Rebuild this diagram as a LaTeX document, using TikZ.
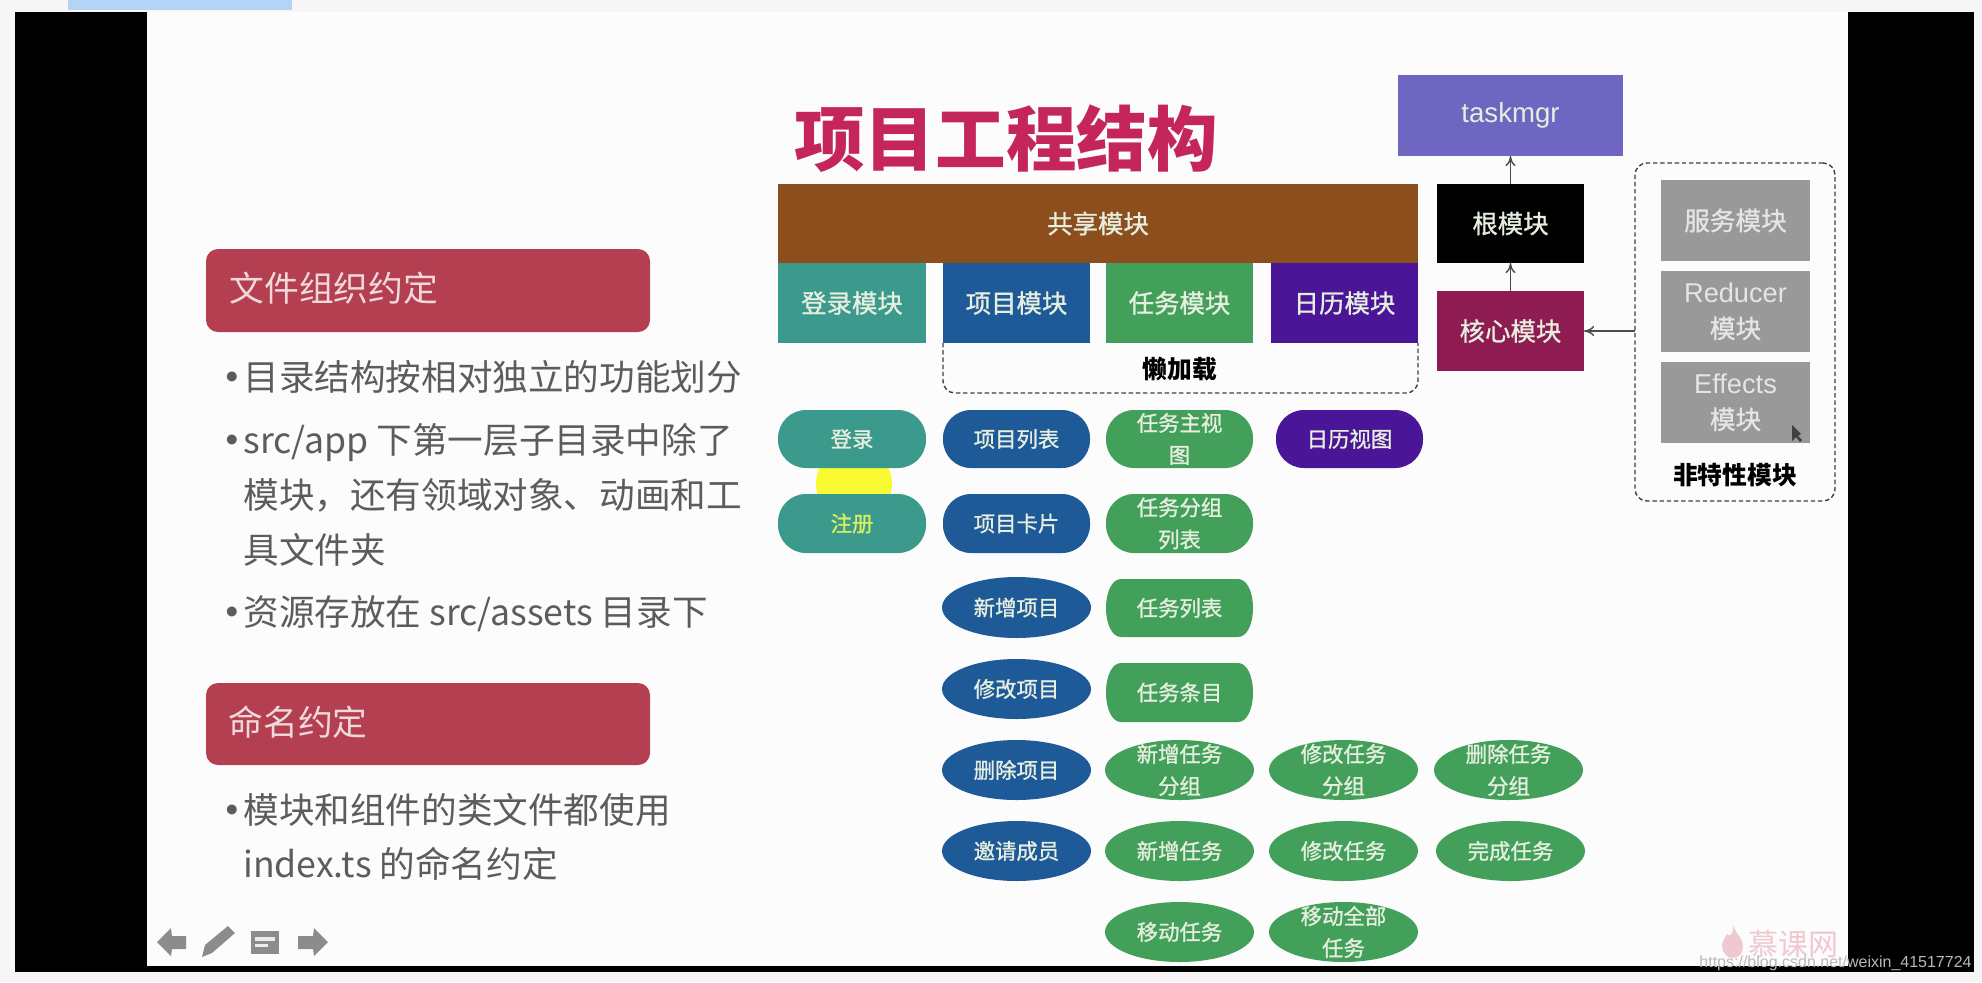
\documentclass[tikz,border=0pt]{standalone}
\usepackage{fontspec}
\setmainfont{Noto Sans CJK SC}
\newfontfamily\wmfont{Liberation Sans}
\newfontfamily\medfont[FakeBold=1.1]{Noto Sans CJK SC}
\usetikzlibrary{arrows.meta,shapes.geometric}
\definecolor{pagebg}{HTML}{F6F6F6}
\definecolor{slidebg}{HTML}{FDFCFD}
\definecolor{topbar}{HTML}{B5D3F7}
\definecolor{cteal}{HTML}{3C9A8C}
\definecolor{cblue}{HTML}{1F5A98}
\definecolor{cgreen}{HTML}{43A05A}
\definecolor{cpurple}{HTML}{4A1596}
\definecolor{cbrown}{HTML}{8B4E1C}
\definecolor{cmag}{HTML}{8E1B52}
\definecolor{ctask}{HTML}{6E66C0}
\definecolor{cgray}{HTML}{999999}
\definecolor{cred}{HTML}{B33F50}
\definecolor{ctitle}{HTML}{C4265C}
\definecolor{cbody}{HTML}{5C5C5C}
\definecolor{cicon}{HTML}{8C8C8C}
\definecolor{clogo}{HTML}{F0C8D0}
\definecolor{chigh}{HTML}{FAFA32}
\definecolor{cregtxt}{HTML}{D8F060}
\definecolor{clabel}{HTML}{E6EEDF}
\newcommand{\bx}[8][]{\node[#1,minimum width={(#6-#4)*0.5pt},minimum height={(#7-#5)*0.5pt},label={[#2]center:{#8}}] (#3) at ({(#4+#6)/2},{(#5+#7)/2}) {};}
% a box whose ends are elliptical: short in x, the full height in y
\newcommand{\bxe}[5]{\fill[#1] ({#2+15},#3) -- ({#4-15},#3) .. controls ({#4-6},#3) and (#4,{#3+13}) .. (#4,{(#3+#5)/2}) .. controls (#4,{#5-13}) and ({#4-6},#5) .. ({#4-15},#5) -- ({#2+15},#5) .. controls ({#2+6},#5) and (#2,{#5-13}) .. (#2,{(#3+#5)/2}) .. controls (#2,{#3+13}) and ({#2+6},#3) .. ({#2+15},#3) -- cycle;}
\newcommand{\bodyline}[3]{\node[bodytxt] (#1) at (243,#2) {#3};}
\newcommand{\bulline}[3]{\node[bodytxt] (#1) at (214,#2) {\makebox[14.5pt][l]{\bfseries •}#3};}
\tikzset{
  every label/.style={inner sep=0pt,align=center,text=clabel},
  pilllbl/.style={font=\medfont\fontsize{10.7}{16}\selectfont},
  modlbl/.style={font=\medfont\fontsize{12.7}{17.5}\selectfont},
  latinlbl/.style={font=\wmfont\fontsize{13.8}{17.5}\selectfont},
  graylbl/.style={font=\medfont\fontsize{12.8}{17.7}\selectfont,text=white!80!gray},
  reglbl/.style={pilllbl,text=cregtxt},
  base/.style={inner sep=0pt,outer sep=0pt,draw=none},
  rbox/.style={base,rectangle,fill=#1},
  pill/.style={base,rectangle,rounded corners=14pt,fill=#1},
  ghost/.style={base,rectangle},
  elli/.style={base,ellipse,fill=#1},
  headbox/.style={base,rectangle,rounded corners=6pt,fill=cred},
  headtxt/.style={anchor=west,inner sep=0pt,text=white!80!cred,font=\fontsize{17.4}{20}\selectfont},
  bodytxt/.style={anchor=west,inner sep=0pt,text=cbody,font=\fontsize{17.8}{20}\selectfont},
  dashbox/.style={draw=black!75,line width=0.7pt,dash pattern=on 2.2pt off 1.4pt,rounded corners=6pt},
  conn/.style={draw=black!70,line width=0.7pt,-{To[length=5pt,width=5pt]}},
  blacktxt/.style={inner sep=0pt,text=black,font=\bfseries\fontsize{12.4}{15}\selectfont},
}
\begin{document}
\begin{tikzpicture}[x=0.5pt,y=-0.5pt]
\useasboundingbox (0,0) rectangle (1982,982);
\fill[pagebg] (0,0) rectangle (1982,982);
\fill[topbar] (68,0) rectangle (292,10);
\fill[black] (14.5,12) rectangle (1974,972);
\fill[slidebg] (147,12) rectangle (1848,966);
% left column
\node[headbox,minimum width=222pt,minimum height=41.5pt] (hA) at (428,290.5) {};
\node[headtxt] (hAt) at (229,288) {文件组织约定};
\bulline{l1}{377}{目录结构按相对独立的功能划分}
\bulline{l2}{442}{src/app 下第一层子目录中除了}
\bodyline{l3}{495}{模块，还有领域对象、动画和工}
\bodyline{l4}{550}{具文件夹}
\bulline{l5}{614}{资源存放在 src/assets 目录下}
\node[headbox,minimum width=222pt,minimum height=41pt] (hB) at (428,724) {};
\node[headtxt] (hBt) at (228,722) {命名约定};
\bulline{l6}{810}{模块和组件的类文件都使用}
\bodyline{l7}{864}{index.ts 的命名约定}
% title
\node[inner sep=0pt,text=ctitle,font=\bfseries\fontsize{35.3}{40}\selectfont] (title) at (1006,139) {项目工程结构};
% modules
\bx[rbox=ctask]{latinlbl}{task}{1398}{75}{1623}{156}{taskmgr}
\bx[rbox=cbrown]{modlbl}{shared}{778}{184}{1418}{263}{共享模块}
\bx[rbox=cteal]{modlbl}{login}{778}{263}{926}{343}{登录模块}
\bx[rbox=cblue]{modlbl}{proj}{943}{263}{1090}{343}{项目模块}
\bx[rbox=cgreen]{modlbl}{tasks}{1106}{263}{1253}{343}{任务模块}
\bx[rbox=cpurple]{modlbl}{cal}{1271}{263}{1418}{343}{日历模块}
\bx[rbox=black]{modlbl}{root}{1437}{184}{1584}{263}{根模块}
\bx[rbox=cmag]{modlbl}{core}{1437}{291}{1584}{371}{核心模块}
% lazy
\coordinate (lzb) at (1418,393);
\draw[dashbox] (proj.south west) |- (lzb) -- (cal.south east);
\node[blacktxt] (lazy) at (1180,369) {懒加载};
% non-feature
\node[base,rectangle,dashbox,minimum width=100pt,minimum height=169pt] (nf) at (1735,332) {};
\bx[rbox=cgray]{graylbl}{svc}{1661}{180}{1810}{261}{服务模块}
\bx[rbox=cgray]{graylbl}{red}{1661}{271}{1810}{352}{{\wmfont\fontsize{13.6}{17.7}\selectfont Reducer}\\模块}
\bx[rbox=cgray]{graylbl}{eff}{1661}{362}{1810}{443}{{\wmfont\fontsize{13.6}{17.7}\selectfont Effects}\\模块}
\node[blacktxt] (nft) at (1735,475) {非特性模块};
% cursor
\fill[black!75] (1792,425) -- (1792,441) -- (1796,437) -- (1800,442) -- (1802,440) -- (1798,436) -- (1801,434) -- cycle;
% connectors
\draw[conn] (root.north) -- (task.south);
\draw[conn] (core.north) -- (root.south);
\draw[conn] (nf.west |- core.east) -- (core.east);
% yellow highlight
\fill[chigh] (854,484) circle[radius=38];
% pills
\bx[pill=cteal]{pilllbl}{p11}{778}{410}{926}{468}{登录}
\bx[pill=cblue]{pilllbl}{p12}{943}{410}{1090}{468}{项目列表}
\bx[pill=cgreen]{pilllbl}{p13}{1106}{410}{1253}{468}{任务主视\\图}
\bx[pill=cpurple]{pilllbl}{p14}{1276}{410}{1423}{468}{日历视图}
\bx[pill=cteal]{reglbl}{p21}{778}{494}{926}{553}{注册}
\bx[pill=cblue]{pilllbl}{p22}{943}{494}{1090}{553}{项目卡片}
\bx[pill=cgreen]{pilllbl}{p23}{1106}{494}{1253}{553}{任务分组\\列表}
\bx[elli=cblue]{pilllbl}{e3}{942}{577}{1091}{638}{新增项目}
\bxe{cgreen}{1106}{579}{1253}{637}
\bx[ghost]{pilllbl}{p33}{1106}{579}{1253}{637}{任务列表}
\bx[elli=cblue]{pilllbl}{e4}{942}{659}{1091}{719}{修改项目}
\bxe{cgreen}{1106}{663}{1253}{722}
\bx[ghost]{pilllbl}{p43}{1106}{663}{1253}{722}{任务条目}
\bx[elli=cblue]{pilllbl}{e5}{942}{740}{1091}{800}{删除项目}
\bx[elli=cgreen]{pilllbl}{e52}{1105}{740}{1254}{800}{新增任务\\分组}
\bx[elli=cgreen]{pilllbl}{e53}{1269}{740}{1418}{800}{修改任务\\分组}
\bx[elli=cgreen]{pilllbl}{e54}{1434}{740}{1583}{800}{删除任务\\分组}
\bx[elli=cblue]{pilllbl}{e6}{942}{821}{1091}{881}{邀请成员}
\bx[elli=cgreen]{pilllbl}{e62}{1105}{821}{1254}{881}{新增任务}
\bx[elli=cgreen]{pilllbl}{e63}{1269}{821}{1418}{881}{修改任务}
\bx[elli=cgreen]{pilllbl}{e64}{1436}{821}{1585}{881}{完成任务}
\bx[elli=cgreen]{pilllbl}{e72}{1105}{902}{1254}{962}{移动任务}
\bx[elli=cgreen]{pilllbl}{e73}{1269}{902}{1418}{962}{移动全部\\任务}
% nav icons
\fill[cicon] (157,942) -- (171,928) -- (172,936) -- (186,936) -- (186,949) -- (172,949) -- (171,956) -- cycle;
\fill[cicon] (202,957) -- (205,945) -- (228,926) -- (235,933) -- (212,953) -- cycle;
\fill[cicon] (251,931) rectangle (279,954);
\fill[white!85!gray] (255,937) rectangle (275,941);
\fill[white!85!gray] (255,944) rectangle (268,947);
\fill[cicon] (328,942) -- (314,928) -- (313,936) -- (298,936) -- (298,949) -- (313,949) -- (314,956) -- cycle;
% logo
\fill[clogo] (1733,925) .. controls (1736,935) and (1743,937) .. (1743,947) .. controls (1743,954) and (1738,958) .. (1733,958) .. controls (1727,958) and (1722,953) .. (1722,946) .. controls (1722,941) and (1725,938) .. (1727,934) .. controls (1729,938) and (1734,934) .. (1733,925) -- cycle;
\node[inner sep=0pt,anchor=west,text=clogo,font=\fontsize{15}{18}\selectfont] (logo) at (1748,944) {慕课网};
% watermark
\node[inner sep=0pt,anchor=base east,text=black!28,font=\wmfont\fontsize{8}{10}\selectfont] (wm) at (1972,967) {https://blog.csdn.net/weixin\_41517724};
\end{tikzpicture}
\end{document}
